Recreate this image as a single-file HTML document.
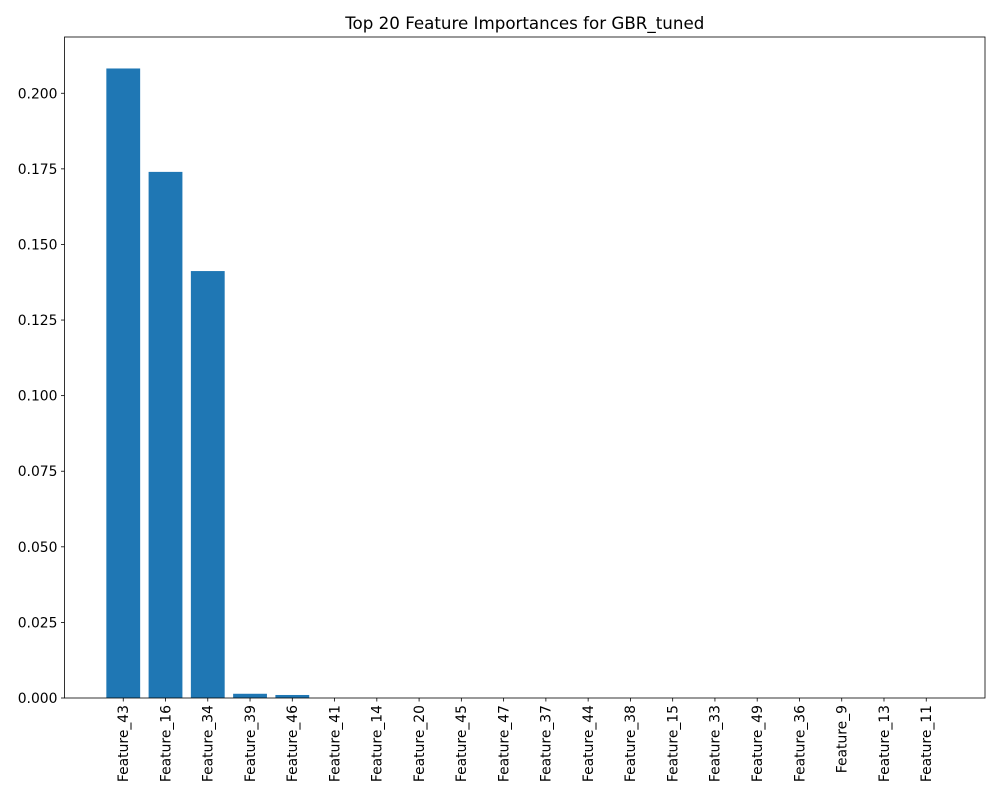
<!DOCTYPE html>
<html><head><meta charset="utf-8"><style>
body{margin:0;background:#fff;}
svg{display:block;font-family:"DejaVu Sans","Liberation Sans",sans-serif;}
</style></head><body>
<svg id="chart" width="1000" height="800"></svg>
<script>
const categories=["Feature_43","Feature_16","Feature_34","Feature_39","Feature_46","Feature_41","Feature_14","Feature_20","Feature_45","Feature_47","Feature_37","Feature_44","Feature_38","Feature_15","Feature_33","Feature_49","Feature_36","Feature_9","Feature_13","Feature_11"];
const importances=[0.2082,0.1740,0.1412,0.0014,0.0010,0,0,0,0,0,0,0,0,0,0,0,0,0,0,0];
const yTicks=[0,0.025,0.05,0.075,0.1,0.125,0.15,0.175,0.2];
const yTickLabels=["0.000","0.025","0.050","0.075","0.100","0.125","0.150","0.175","0.200"];

const NS="http://www.w3.org/2000/svg";
const svg=document.getElementById('chart');
const L=64.5,R=985,T=37,B=698;
const n=categories.length;
const xmin=-0.4-0.05*(n-1+0.8),xmax=n-1+0.4+0.05*(n-1+0.8);
const ymax=Math.max(...importances)*1.05;
const xs=v=>L+(v-xmin)/(xmax-xmin)*(R-L);
const ys=v=>B-v/ymax*(B-T);
function mk(tag,attrs,parent){const e=document.createElementNS(NS,tag);for(const k in attrs)e.setAttribute(k,attrs[k]);(parent||svg).appendChild(e);return e;}

const title=mk('text',{x:(L+R)/2,y:29,'text-anchor':'middle','font-size':16.7,fill:'#000'});


title.textContent="Top 20 Feature Importances for GBR_tuned";

categories.forEach((c,i)=>{
  const v=importances[i];
  const x0=xs(i-0.4),x1=xs(i+0.4);
  const r=mk('rect',{x:x0,y:ys(v),width:x1-x0,height:B-ys(v),fill:'#1f77b4'});
  
  
  const cx=xs(i);
  const tk=mk('line',{x1:cx,x2:cx,y1:B,y2:B+3.5,stroke:'#000','stroke-width':0.8});
  
  
  const t=mk('text',{x:0,y:0,transform:`translate(${cx+4.8},${B+7}) rotate(-90)`,'text-anchor':'end','font-size':13.9,fill:'#000'});
  
  
  t.textContent=c;
});

yTicks.forEach((v,i)=>{
  const y=ys(v);
  const tk=mk('line',{x1:L-3.5,x2:L,y1:y,y2:y,stroke:'#000','stroke-width':0.8});
  
  
  const t=mk('text',{x:L-7,y:y+5,'text-anchor':'end','font-size':13.9,fill:'#000'});
  
  
  t.textContent=yTickLabels[i];
});

const frame=mk('rect',{x:L,y:T,width:R-L,height:B-T,fill:'none',stroke:'#000','stroke-width':0.8});


</script>
</body></html>
